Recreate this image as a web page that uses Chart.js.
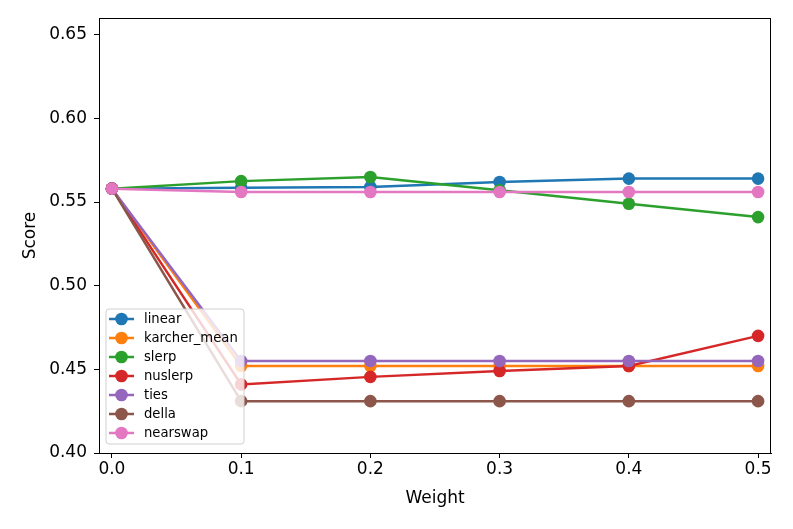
<!DOCTYPE html>
<html>
<head>
<meta charset="utf-8">
<script src="https://cdn.jsdelivr.net/npm/chart.js@4/dist/chart.umd.min.js"></script>
<style>
  html, body { margin: 0; padding: 0; background: #fff; }
  #wrap { width: 793px; height: 529px; }
</style>
</head>
<body>
<div id="wrap"><canvas id="grafico" width="793" height="529"></canvas></div>
<script>
// Dados

var pesos = [0.0, 0.1, 0.2, 0.3, 0.4, 0.5];
var ticksX = [0.0, 0.1, 0.2, 0.3, 0.4, 0.5];
var ticksY = [0.40, 0.45, 0.50, 0.55, 0.60, 0.65];

var linear      = [0.558, 0.5585, 0.559, 0.562, 0.564, 0.564];
var karcherMean = [0.558, 0.452, 0.452, 0.452, 0.452, 0.452];
var slerp       = [0.558, 0.5625, 0.565, 0.557, 0.549, 0.541];
var nuslerp     = [0.558, 0.441, 0.4455, 0.449, 0.452, 0.470];
var ties        = [0.558, 0.455, 0.455, 0.455, 0.455, 0.455];
var della       = [0.558, 0.431, 0.431, 0.431, 0.431, 0.431];
var nearswap    = [0.558, 0.556, 0.556, 0.556, 0.556, 0.556];

var nomes = ['linear', 'karcher_mean', 'slerp', 'nuslerp', 'ties', 'della', 'nearswap'];
var series = [linear, karcherMean, slerp, nuslerp, ties, della, nearswap];
var cores = ['#1f77b4', '#ff7f0e', '#2ca02c', '#d62728', '#9467bd', '#8c564b', '#e377c2'];

var fonte = "'DejaVu Sans', sans-serif";

var datasets = series.map(function (valores, i) {
  return {
    label: nomes[i],
    data: valores.map(function (v, j) { return { x: pesos[j], y: v }; }),
    borderColor: cores[i],
    backgroundColor: cores[i],
    pointBackgroundColor: cores[i],
    pointBorderColor: cores[i],
    pointRadius: 6.3,
    pointBorderWidth: 0,
    borderWidth: 2.5,
    tension: 0,
    fill: false,
    order: series.length - i
  };
});

// Moldura e legenda dentro do gráfico

var molduraPlugin = {
  id: 'moldura',
  afterDraw: function (chart) {
    var ctx = chart.ctx;
    var a = chart.chartArea;
    ctx.save();
    ctx.strokeStyle = '#000';
    ctx.lineWidth = 1;
    ctx.strokeRect(a.left + 0.5, a.top + 0.5, a.right - a.left - 1, a.bottom - a.top);

    // legenda
    var x = a.left + 7, w = 138, h = 135;
    var y = a.bottom - 9 - h;
    ctx.beginPath();
    ctx.roundRect(x, y, w, h, 3);
    ctx.fillStyle = 'rgba(255,255,255,0.8)';
    ctx.fill();
    ctx.strokeStyle = '#d0d0d0';
    ctx.stroke();

    ctx.font = '13.2px ' + fonte;
    ctx.textBaseline = 'middle';
    chart.data.datasets.forEach(function (ds, i) {
      var cy = y + 10 + i * 19;
      ctx.strokeStyle = ds.borderColor;
      ctx.lineWidth = 2.5;
      ctx.beginPath();
      ctx.moveTo(x + 3, cy);
      ctx.lineTo(x + 28, cy);
      ctx.stroke();
      ctx.fillStyle = ds.borderColor;
      ctx.beginPath();
      ctx.arc(x + 15.5, cy, 6.3, 0, Math.PI * 2);
      ctx.fill();
      ctx.fillStyle = '#000';
      ctx.fillText(ds.label, x + 38, cy + 1);
    });
    ctx.restore();
  }
};

var config = {
  type: 'line',
  data: { datasets: datasets },
  options: {
    responsive: false,
    devicePixelRatio: 1,
    animation: false,
    layout: { padding: { left: 0, top: 18, right: 22, bottom: 0 } },
    plugins: {
      legend: { display: false },
      tooltip: { enabled: false }
    },
    scales: {
      x: {
        type: 'linear',
        min: -0.01,
        max: 0.51,
        afterBuildTicks: function (scale) {
          scale.ticks = ticksX.map(function (v) { return { value: v }; });
        },
        afterFit: function (scale) { scale.height = 76; },
        border: { display: true, color: '#000', width: 1 },
        grid: { display: true, drawOnChartArea: false, drawTicks: true, tickLength: 5, color: '#000' },
        ticks: {
          color: '#000',
          padding: 1,
          maxRotation: 0,
          font: { size: 17, family: fonte },
          callback: function (v) { return v.toFixed(1); }
        },
        title: {
          display: true,
          text: 'Weight',
          color: '#000',
          font: { size: 17, family: fonte },
          padding: { top: 0, bottom: 20 }
        }
      },
      y: {
        type: 'linear',
        min: 0.40,
        max: 0.66,
        afterBuildTicks: function (scale) {
          scale.ticks = ticksY.map(function (v) { return { value: v }; });
        },
        afterFit: function (scale) { scale.width = 99; },
        border: { display: true, color: '#000', width: 1 },
        grid: { display: true, drawOnChartArea: false, drawTicks: true, tickLength: 5, color: '#000' },
        ticks: {
          color: '#000',
          padding: 7,
          font: { size: 17, family: fonte },
          callback: function (v) { return v.toFixed(2); }
        },
        title: {
          display: true,
          text: 'Score',
          color: '#000',
          font: { size: 17, family: fonte },
          padding: { top: 20, bottom: 0 }
        }
      }
    }
  },
  plugins: [molduraPlugin]
};

var ctxGrafico = document.getElementById('grafico').getContext('2d');
var meuGrafico = new Chart(ctxGrafico, config);
</script>
</body>
</html>
